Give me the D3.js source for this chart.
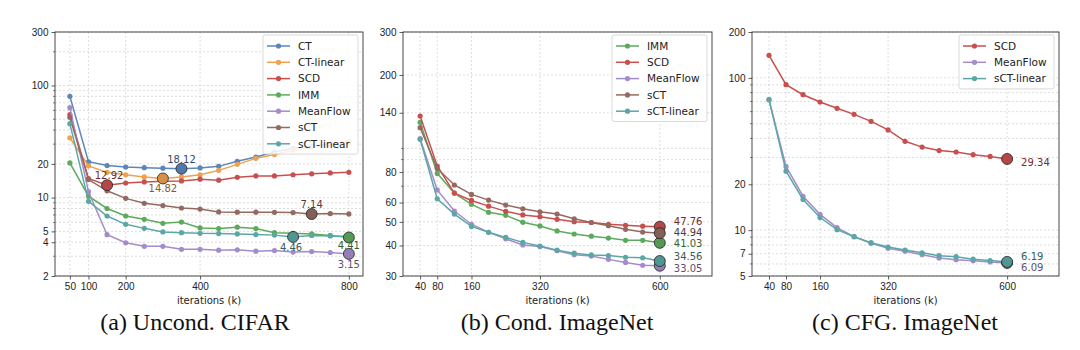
<!doctype html>
<html lang="en">
<head>
  <meta charset="utf-8">
  <title>Training curves</title>
  <script src="https://d3js.org/d3.v7.min.js"></script>
  <style>
    html, body { margin: 0; padding: 0; background: #fff; }
    svg { display: block; font-family: "DejaVu Sans", sans-serif; }
    .grid line { stroke: #c8c8c8; stroke-width: 0.6; stroke-dasharray: 2,2; }
    .tick-label { font-size: 10px; fill: #222; }
    .axis-title { font-size: 10px; fill: #222; }
    .caption { font-family: "Liberation Serif", serif; font-size: 24px; fill: #111; }
    .legend text { font-size: 10.5px; fill: #222; }
    .note { font-size: 10px; }
  </style>
</head>
<body>
<svg id="fig" width="1080" height="350"></svg>
<script>
  // ---- data ----
  const colors = {
    "CT": "#5a86bb", "CT-linear": "#eea14f", "SCD": "#c94f4f", "IMM": "#5daa5d",
    "MeanFlow": "#a48ccb", "sCT": "#936a62", "sCT-linear": "#5ba7a5"
  };

  const itersA = [50, 100, 150, 200, 250, 300, 350, 400, 450, 500, 550, 600, 650, 700, 750, 800];
  const cifarCT        = [80, 20.9, 19.3, 18.75, 18.5, 18.3, 18.12, 18.4, 19.0, 21.1, 23.0, 25.5, 27.5, 28.8, 30.0, 31.5];
  const cifarCTlinear  = [34.2, 19.2, 16.8, 16.0, 15.3, 14.82, 15.3, 16.0, 17.5, 19.8, 22.4, 24.2, 26.5, 28.0, 29.5, 31.0];
  const cifarSCD       = [55, 14.8, 12.92, 13.5, 13.8, 14.0, 14.1, 14.6, 14.3, 15.2, 15.6, 15.6, 16.0, 16.3, 16.6, 16.8];
  const cifarIMM       = [20.4, 10.3, 8.0, 6.86, 6.41, 5.9, 6.05, 5.37, 5.3, 5.45, 5.3, 4.87, 4.8, 4.75, 4.6, 4.41];
  const cifarMeanFlow  = [63.4, 11.3, 4.67, 3.96, 3.68, 3.68, 3.46, 3.46, 3.4, 3.42, 3.33, 3.37, 3.27, 3.3, 3.24, 3.15];
  const cifarSCT       = [52, 14.5, 11.5, 9.85, 8.9, 8.5, 8.08, 7.9, 7.45, 7.42, 7.42, 7.4, 7.35, 7.14, 7.2, 7.15];
  const cifarSCTlinear = [45.7, 9.27, 6.86, 5.78, 5.32, 4.94, 4.87, 4.8, 4.78, 4.75, 4.68, 4.63, 4.46, 4.6, 4.55, 4.5];

  const itersB = [40, 80, 120, 160, 200, 240, 280, 320, 360, 400, 440, 480, 520, 560, 600];
  const condIMM       = [127.9, 79.0, 65.6, 59.0, 54.7, 53.2, 49.8, 48.1, 45.9, 44.6, 43.7, 42.9, 42.0, 42.0, 41.03];
  const condSCD       = [135.8, 84.7, 65.6, 61.2, 58.0, 55.2, 53.4, 52.5, 51.2, 50.1, 49.7, 48.9, 48.4, 48.0, 47.76];
  const condMeanFlow  = [109.6, 67.6, 55.4, 48.9, 45.3, 42.6, 40.2, 39.6, 38.1, 36.7, 36.2, 35.1, 34.1, 33.2, 33.05];
  const condSCT       = [121.6, 82.8, 70.8, 64.8, 61.4, 58.6, 56.6, 55.0, 53.8, 51.5, 49.7, 48.2, 46.6, 45.4, 44.94];
  const condSCTlinear = [109, 62.2, 53.8, 47.9, 45.3, 43.2, 41.2, 39.8, 38.3, 37.2, 36.6, 36.4, 35.8, 35.6, 34.56];

  const cfgSCD       = [140.6, 90.2, 77.5, 69.4, 63.1, 57.6, 51.8, 45.5, 38.3, 35.1, 33.3, 32.6, 31.3, 30.5, 29.34];
  const cfgMeanFlow  = [71.9, 26.2, 16.7, 12.7, 10.4, 9.06, 8.2, 7.6, 7.27, 6.9, 6.56, 6.4, 6.3, 6.18, 6.09];
  const cfgSCTlinear = [71.9, 24.4, 15.9, 12.1, 10.07, 9.06, 8.27, 7.75, 7.4, 7.1, 6.8, 6.7, 6.45, 6.32, 6.19];

  const xTicksA = [50, 100, 200, 400, 800];
  const xTicksB = [40, 80, 160, 320, 600];
  const yTicksA = [2, 4, 5, 10, 20, 100, 300];
  const yTicksB = [30, 40, 50, 60, 80, 140, 200, 300];
  const yTicksC = [5, 7, 10, 20, 100, 200];

  // ---- layout / label placement ----
  const panels = [
    { caption: "(a) Uncond. CIFAR", capX: 195, left: 55, right: 363, xDomain: [10, 838], yDomain: [2, 300],
      x: itersA, xTicks: xTicksA, yTicks: yTicksA, legendW: 95,
      series: [["CT", cifarCT], ["CT-linear", cifarCTlinear], ["SCD", cifarSCD], ["IMM", cifarIMM],
               ["MeanFlow", cifarMeanFlow], ["sCT", cifarSCT], ["sCT-linear", cifarSCTlinear]],
      notes: { "CT": [0, -6, "middle"], "CT-linear": [0, 14, "middle"], "SCD": [2, -6, "middle"],
               "IMM": [0, 12, "middle"], "MeanFlow": [0, 14, "middle"], "sCT": [0, -6, "middle"],
               "sCT-linear": [-2, 14, "middle"] } },
    { caption: "(b) Cond. ImageNet", capX: 557, left: 403, right: 712, xDomain: [0, 722], yDomain: [30, 300],
      x: itersB, xTicks: xTicksB, yTicks: yTicksB, legendW: 95,
      series: [["IMM", condIMM], ["SCD", condSCD], ["MeanFlow", condMeanFlow], ["sCT", condSCT], ["sCT-linear", condSCTlinear]],
      notes: { "SCD": [14, -1.8, "start"], "sCT": [14, 2.9, "start"], "IMM": [14, 4.5, "start"],
               "sCT-linear": [14, -0.6, "start"], "MeanFlow": [14, 6, "start"] } },
    { caption: "(c) CFG. ImageNet", capX: 905, left: 752, right: 1059, xDomain: [0, 722], yDomain: [5, 200],
      x: itersB, xTicks: xTicksB, yTicks: yTicksC, legendW: 95,
      series: [["SCD", cfgSCD], ["MeanFlow", cfgMeanFlow], ["sCT-linear", cfgSCTlinear]],
      notes: { "SCD": [14, 7.5, "start"], "sCT-linear": [14, -2.3, "start"], "MeanFlow": [14, 7.8, "start"] } }
  ];
  const plotTop = 32, plotBottom = 276;

  const svg = d3.select("#fig");

  function logGridValues(lo, hi) {
    const vals = [];
    for (let e = Math.floor(Math.log10(lo)); e <= Math.ceil(Math.log10(hi)); e++) {
      for (let m = 1; m <= 9; m++) {
        const v = m * Math.pow(10, e);
        if (v >= lo - 1e-9 && v <= hi + 1e-9) vals.push(v);
      }
    }
    return vals;
  }

  panels.forEach(p => {
    const x = d3.scaleLinear().domain(p.xDomain).range([p.left, p.right]);
    const y = d3.scaleLog().domain(p.yDomain).range([plotBottom, plotTop]);
    const g = svg.append("g");

    // grid (major + minor)
    const gridY = Array.from(new Set(logGridValues(p.yDomain[0], p.yDomain[1]).concat(p.yTicks)));
    const grid = g.append("g").attr("class", "grid");
    grid.selectAll("line.h").data(gridY).join("line").attr("class", "h")
      .attr("x1", p.left).attr("x2", p.right).attr("y1", d => y(d)).attr("y2", d => y(d));
    grid.selectAll("line.v").data(p.xTicks).join("line").attr("class", "v")
      .attr("x1", d => x(d)).attr("x2", d => x(d)).attr("y1", plotTop).attr("y2", plotBottom);

    // axes
    const xAxis = g.append("g").attr("transform", `translate(0,${plotBottom})`)
      .call(d3.axisBottom(x).tickValues(p.xTicks).tickSize(3.5).tickPadding(3).tickFormat(d3.format("d")));
    const yAxis = g.append("g").attr("transform", `translate(${p.left},0)`)
      .call(d3.axisLeft(y).tickValues(p.yTicks).tickSize(3.5).tickPadding(3).tickFormat(d3.format("d")));
    [xAxis, yAxis].forEach(a => {
      a.select(".domain").remove();
      a.selectAll("line").attr("stroke", "#333").attr("stroke-width", 0.8);
      a.selectAll("text").attr("class", "tick-label").attr("font-family", null).attr("font-size", null);
    });
    // minor y ticks
    const minor = gridY.filter(v => !p.yTicks.includes(v));
    g.append("g").selectAll("line").data(minor).join("line")
      .attr("x1", p.left - 2).attr("x2", p.left).attr("y1", d => y(d)).attr("y2", d => y(d))
      .attr("stroke", "#333").attr("stroke-width", 0.6);

    // frame
    g.append("rect").attr("x", p.left).attr("y", plotTop)
      .attr("width", p.right - p.left).attr("height", plotBottom - plotTop)
      .attr("fill", "none").attr("stroke", "#333").attr("stroke-width", 0.9);

    // lines and points
    const line = d3.line().x(d => x(d[0])).y(d => y(d[1]));
    p.series.forEach(([name, vals]) => {
      const pts = vals.map((v, i) => [p.x[i], v]);
      g.append("path").datum(pts).attr("d", line)
        .attr("fill", "none").attr("stroke", colors[name]).attr("stroke-width", 1.5);
      g.append("g").selectAll("circle").data(pts).join("circle")
        .attr("cx", d => x(d[0])).attr("cy", d => y(d[1])).attr("r", 2.6)
        .attr("fill", colors[name]);
    });

    // best-value markers + labels
    p.series.forEach(([name, vals]) => {
      const i = d3.minIndex(vals);
      const cx = x(p.x[i]), cy = y(vals[i]);
      const c = d3.color(colors[name]);
      g.append("circle").attr("cx", cx).attr("cy", cy).attr("r", 5.5)
        .attr("fill", c.darker(0.3)).attr("stroke", "#222").attr("stroke-width", 0.8);
      const n = p.notes[name];
      g.append("text").attr("class", "note")
        .attr("x", cx + n[0]).attr("y", cy + n[1]).attr("text-anchor", n[2])
        .attr("fill", c.darker(1.6)).text(vals[i].toFixed(2));
    });

    // legend
    const rowH = 16.3;
    const lg = g.append("g").attr("class", "legend")
      .attr("transform", `translate(${p.right - 5 - p.legendW},${plotTop + 3})`);
    lg.append("rect").attr("width", p.legendW).attr("height", p.series.length * rowH + 5)
      .attr("rx", 2).attr("fill", "#fff").attr("fill-opacity", 0.85)
      .attr("stroke", "#d0d0d0").attr("stroke-width", 0.8);
    p.series.forEach(([name], k) => {
      const row = lg.append("g").attr("transform", `translate(0,${11 + k * rowH})`);
      row.append("line").attr("x1", 4).attr("x2", 27).attr("stroke", colors[name]).attr("stroke-width", 1.5);
      row.append("circle").attr("cx", 15.5).attr("r", 2.6).attr("fill", colors[name]);
      row.append("text").attr("x", 35).attr("dy", "0.36em").text(name);
    });

    // titles
    g.append("text").attr("class", "axis-title").attr("x", (p.left + p.right) / 2).attr("y", 304)
      .attr("text-anchor", "middle").text("iterations (k)");
    g.append("text").attr("class", "caption").attr("x", p.capX).attr("y", 330)
      .attr("text-anchor", "middle").text(p.caption);
  });
</script>
</body>
</html>
